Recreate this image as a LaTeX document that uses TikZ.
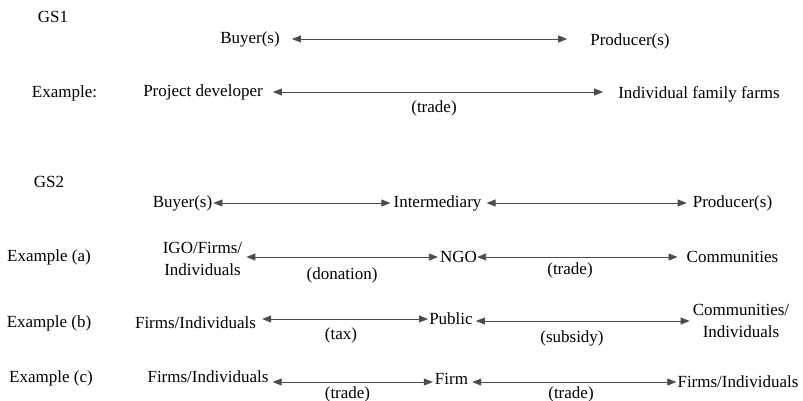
\documentclass[tikz,border=0pt]{standalone}
\usepackage{fontspec}
\setmainfont{Liberation Serif}
\usetikzlibrary{arrows.meta}
\tikzset{
  lbl/.style={inner sep=0pt, font=\fontsize{17}{22}\selectfont, text=black},
  lbl2/.style={lbl, align=center},
  biarrow/.style={draw=black!70, line width=0.75pt,
    {Triangle[length=9pt,width=7pt]}-{Triangle[length=9pt,width=7pt]}}
}
\begin{document}
\begin{tikzpicture}[x=1pt,y=-1pt]
\useasboundingbox (0,0) rectangle (803,400);
% GS1
\node[lbl] (gs1) at (53,17) {GS1};
\node[lbl] (buyer1) at (250,39) {Buyer(s)};
\node[lbl] (prod1) at (630,41) {Producer(s)};
\draw[biarrow, shorten <=12pt, shorten >=23pt] (buyer1.east) -- (buyer1.east -| prod1.west);
% Example
\node[lbl] (ex1) at (64.5,93) {Example:};
\node[lbl] (pd) at (203,92) {Project developer};
\node[lbl] (iff) at (699,94) {Individual family farms};
\draw[biarrow, shorten <=10pt, shorten >=15pt] (pd.east) -- (pd.east -| iff.west);
\node[lbl] (tr1) at (434,108) {(trade)};
% GS2
\node[lbl] (gs2) at (49,182) {GS2};
\node[lbl] (buyer2) at (182.5,203) {Buyer(s)};
\node[lbl] (inter) at (437.5,203) {Intermediary};
\node[lbl] (prod2) at (732.5,203) {Producer(s)};
\draw[biarrow, shorten <=1pt, shorten >=3pt] (buyer2.east) -- (inter.west);
\draw[biarrow, shorten <=5pt, shorten >=6pt] (inter.east) -- (prod2.west);
% Example (a)
\node[lbl] (exa) at (49,257) {Example (a)};
\node[lbl2] (igo) at (202.5,259) {IGO/Firms/\\Individuals};
\node[lbl] (ngo) at (458.5,257) {NGO};
\node[lbl] (comm) at (732.5,257) {Communities};
\draw[biarrow, shorten <=4pt, shorten >=2pt] (ngo.west -| igo.east) -- (ngo.west);
\draw[biarrow, shorten <=0pt, shorten >=9pt] (ngo.east) -- (comm.west);
\node[lbl] (don) at (342,275) {(donation)};
\node[lbl] (tra) at (570,270) {(trade)};
% Example (b)
\node[lbl] (exb) at (49,323) {Example (b)};
\node[lbl] (fib) at (195.5,323) {Firms/Individuals};
\node[lbl] (pub) at (451,319) {Public};
\node[lbl2] (ci) at (741,321) {Communities/\\Individuals};
\draw[biarrow, shorten <=6pt, shorten >=1pt] (pub.west -| fib.east) -- (pub.west);
\draw[biarrow, shorten <=3pt, shorten >=3pt] (pub.east |- ci.west) -- (ci.west);
\node[lbl] (tax) at (341,335) {(tax)};
\node[lbl] (sub) at (572,338) {(subsidy)};
% Example (c)
\node[lbl] (exc) at (51,378) {Example (c)};
\node[lbl] (fic) at (208,377) {Firms/Individuals};
\node[lbl] (firm) at (451.5,379) {Firm};
\node[lbl] (fic2) at (738,382) {Firms/Individuals};
\draw[biarrow, shorten <=4pt, shorten >=2pt] (fic.east |- fic2.west) -- (firm.west |- fic2.west);
\draw[biarrow, shorten <=4pt, shorten >=1pt] (firm.east |- fic2.west) -- (fic2.west);
\node[lbl] (trc1) at (347.5,394) {(trade)};
\node[lbl] (trc2) at (571,394) {(trade)};
\end{tikzpicture}
\end{document}
